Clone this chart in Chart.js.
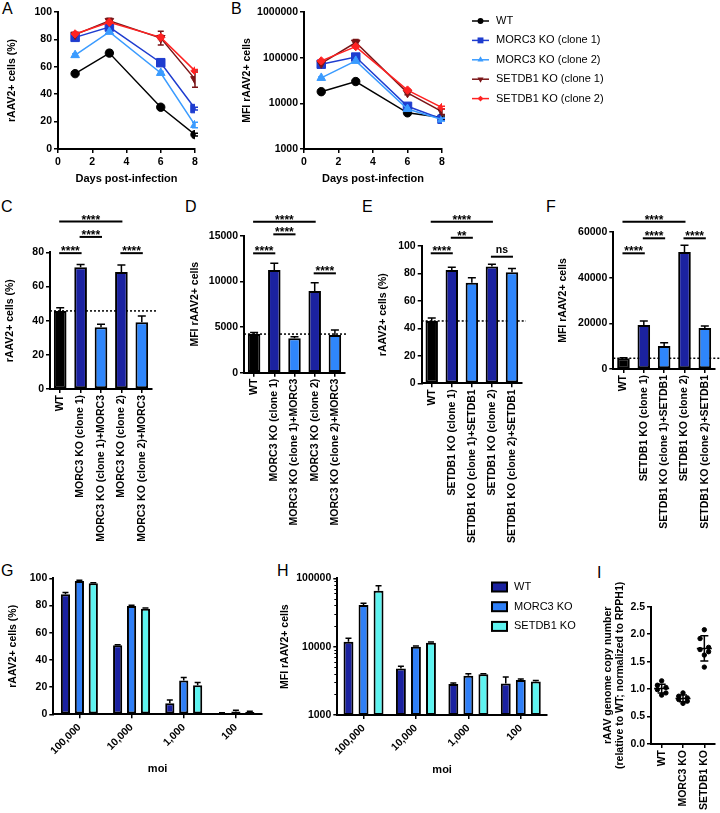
<!DOCTYPE html>
<html>
<head>
<meta charset="utf-8">
<script src="https://cdn.jsdelivr.net/npm/chart.js@4.4.1/dist/chart.umd.min.js"></script>
<style>
html, body { margin: 0; padding: 0; background: #fff; }
body { position: relative; width: 720px; height: 813px; overflow: hidden; }
canvas { position: absolute; }
.lbl { position: absolute; font: 16px 'Liberation Sans', Arial, sans-serif; line-height: 16px; color: #000; }
</style>
</head>
<body>
<div class="lbl" style="left:2px;top:1px">A</div>
<div class="lbl" style="left:231px;top:1px">B</div>
<div class="lbl" style="left:1px;top:199px">C</div>
<div class="lbl" style="left:185px;top:199px">D</div>
<div class="lbl" style="left:362px;top:199px">E</div>
<div class="lbl" style="left:546px;top:199px">F</div>
<div class="lbl" style="left:1px;top:563px">G</div>
<div class="lbl" style="left:277px;top:563px">H</div>
<div class="lbl" style="left:597px;top:565px">I</div>
<script>
// ---- data ----
const DAYS = [1, 3, 6, 8];
const LINE_NAMES = ['WT', 'MORC3 KO (clone 1)', 'MORC3 KO (clone 2)', 'SETDB1 KO (clone 1)', 'SETDB1 KO (clone 2)'];

// A: % rAAV2+ cells over time (mean, SD)
const A_WT = [55, 70, 30.5, 10.5],   A_WT_SD = [1, 2, 1, 1];
const A_M1 = [81.5, 89, 63, 29.5],   A_M1_SD = [1.5, 1.5, 1.5, 1];
const A_M2 = [68.5, 85.5, 55.5, 17.5], A_M2_SD = [1, 1, 1, 2];
const A_S1 = [83.5, 93.5, 81, 51],   A_S1_SD = [1, 2, 5, 6];
const A_S2 = [84, 92.5, 81.5, 57],   A_S2_SD = [1, 1, 1.5, 1];

// B: MFI over time
const B_WT = [18000, 30000, 6200, 4900],    B_WT_SD = [800, 1500, 500, 400];
const B_M1 = [72000, 103000, 8600, 4500],   B_M1_SD = [5000, 8000, 600, 300];
const B_M2 = [36000, 85000, 7500, 4400],    B_M2_SD = [2000, 5000, 500, 300];
const B_S1 = [75000, 215000, 17000, 6600],  B_S1_SD = [5000, 35000, 1500, 900];
const B_S2 = [85000, 175000, 19500, 8100],  B_S2_SD = [4000, 10000, 1000, 500];
const B_TICKS = [1000, 10000, 100000, 1000000];

// C-F: rescue experiments
const C_CATS = ['WT', 'MORC3 KO (clone 1)', 'MORC3 KO (clone 1)+MORC3', 'MORC3 KO (clone 2)', 'MORC3 KO (clone 2)+MORC3'];
const E_CATS = ['WT', 'SETDB1 KO (clone 1)', 'SETDB1 KO (clone 1)+SETDB1', 'SETDB1 KO (clone 2)', 'SETDB1 KO (clone 2)+SETDB1'];
const C_VALS = [45.7, 71.2, 36.1, 68.5, 39],    C_SD = [1.9, 1.6, 1.8, 4.1, 3.7];
const D_VALS = [4230, 11240, 3760, 8940, 4120], D_SD = [180, 730, 180, 910, 550];
const E_VALS = [45.4, 82.5, 73.3, 85, 80.8],    E_SD = [2.2, 2, 3.6, 1.7, 2.9];
const F_VALS = [4700, 19270, 10070, 51240, 17950], F_SD = [250, 1750, 1460, 2920, 880];

// significance brackets: from/to category index, height in data units
const C_SIG = [{ from: 0, to: 1, y: 79.5, text: '****' }, { from: 1, to: 2, y: 89, text: '****' },
               { from: 0, to: 3, y: 98, text: '****' },   { from: 3, to: 4, y: 79.5, text: '****' }];
const D_SIG = [{ from: 0, to: 1, y: 13070, text: '****' }, { from: 1, to: 2, y: 15150, text: '****' },
               { from: 0, to: 3, y: 16530, text: '****' }, { from: 3, to: 4, y: 10880, text: '****' }];
const E_SIG = [{ from: 0, to: 1, y: 94.7, text: '****' }, { from: 1, to: 2, y: 106, text: '**' },
               { from: 0, to: 3, y: 117.7, text: '****' }, { from: 3, to: 4, y: 92.2, text: 'ns' }];
const F_SIG = [{ from: 0, to: 1, y: 50670, text: '****' }, { from: 1, to: 2, y: 57240, text: '****' },
               { from: 0, to: 3, y: 64500, text: '****' }, { from: 3, to: 4, y: 57240, text: '****' }];

// G-H: moi series
const MOI = ['100,000', '10,000', '1,000', '100'];
const GH_NAMES = ['WT', 'MORC3 KO', 'SETDB1 KO'];
const G_WT = [88.2, 50.7, 8.1, 0.7],   G_WT_SD = [1.3, 0.5, 2.4, 0.4];
const G_MO = [98, 79.7, 24.8, 2.0],    G_MO_SD = [0.5, 0.5, 2.2, 0.9];
const G_SE = [96.3, 77.7, 21.3, 1.7],  G_SE_SD = [0.5, 0.5, 2, 0.5];
const H_WT = [11800, 4800, 2850, 2900], H_WT_SD = [1450, 350, 80, 700];
const H_MO = [40700, 10000, 3750, 3250], H_MO_SD = [2300, 250, 250, 120];
const H_SE = [66000, 11400, 3950, 3100], H_SE_SD = [12000, 300, 80, 100];
const H_TICKS = [1000, 10000, 100000];

// I: genome copy number
const I_CATS = ['WT', 'MORC3 KO', 'SETDB1 KO'];
const I_WT = [1.15, 1.07, 1.03, 0.99, 0.93, 0.89];
const I_MO = [0.93, 0.87, 0.84, 0.81, 0.78, 0.74];
const I_SE = [2.08, 1.92, 1.76, 1.72, 1.68, 1.62, 1.40];
const I_MEAN = [1.01, 0.83, 1.74];
const I_SD = [0.08, 0.06, 0.23];
const I_TITLE = ['rAAV genome copy number', '(relative to WT; normalized to RPPH1)'];

// ---- styles ----
const FONT = "'Liberation Sans', Arial, Helvetica, sans-serif";
const LINE_COLORS = ['#000000', '#1e3ccf', '#3a9bff', '#7a1517', '#ff2222'];
const MARKERS = [
  { style: 'circle', r: 4.2, rot: 0 }, { style: 'rect', r: 6, rot: 0 }, { style: 'triangle', r: 5, rot: 0 },
  { style: 'triangle', r: 5, rot: 180 }, { style: 'rectRot', r: 4.2, rot: 0 }
];
const KO_DARK = '#1b22a0', RESCUE = '#2f86fb';
const RESCUE_FILL = ['#000000', KO_DARK, RESCUE, KO_DARK, RESCUE];
const GH_COLORS = ['#1b22a0', '#2f7ff7', '#5ef3f0'];

Chart.defaults.font.family = FONT;
Chart.defaults.font.size = 10.5;
Chart.defaults.font.weight = 'bold';
Chart.defaults.color = '#000';
Chart.defaults.animation = false;
Chart.defaults.plugins.legend.display = false;
Chart.defaults.plugins.tooltip.enabled = false;

// ---- plugins ----
function drawErrors(chart, o) {
  const ctx = chart.ctx;
  ctx.save();
  chart.data.datasets.forEach((ds, di) => {
    if (!ds.errors) return;
    const meta = chart.getDatasetMeta(di);
    const ys = chart.scales[meta.yAxisID];
    ctx.strokeStyle = o.color || ds.borderColor;
    ctx.lineWidth = 1.5;
    meta.data.forEach((el, i) => {
      const raw = ds.data[i];
      const v = typeof raw === 'object' ? raw.y : raw;
      const e = ds.errors[i];
      if (!e) return;
      const top = ys.getPixelForValue(v + e);
      const bot = ys.getPixelForValue(o.both ? v - e : v);
      const c = o.cap / 2;
      ctx.beginPath();
      ctx.moveTo(el.x, bot); ctx.lineTo(el.x, top);
      ctx.moveTo(el.x - c, top); ctx.lineTo(el.x + c, top);
      if (o.both) { ctx.moveTo(el.x - c, bot); ctx.lineTo(el.x + c, bot); }
      ctx.stroke();
    });
  });
  ctx.restore();
}
const errorBars = {
  id: 'errorBars',
  beforeDatasetsDraw(chart, a, o) { if (o.under) drawErrors(chart, o); },
  afterDatasetsDraw(chart, a, o) { if (!o.under) drawErrors(chart, o); }
};

const sigBrackets = {
  id: 'sig',
  afterDraw(chart, a, o) {
    const { ctx, scales: { x, y } } = chart;
    ctx.save();
    ctx.strokeStyle = '#000'; ctx.fillStyle = '#000'; ctx.lineWidth = 2;
    ctx.textAlign = 'center'; ctx.textBaseline = 'alphabetic';
    o.items.forEach(it => {
      const x1 = x.getPixelForValue(it.from) - 1, x2 = x.getPixelForValue(it.to) + 1;
      const py = y.getPixelForValue(it.y);
      ctx.beginPath(); ctx.moveTo(x1, py); ctx.lineTo(x2, py); ctx.stroke();
      if (it.text === 'ns') {
        ctx.font = 'bold 10.5px ' + FONT;
        ctx.fillText(it.text, (x1 + x2) / 2, py - 4);
      } else {
        ctx.font = 'bold 12px ' + FONT;
        ctx.fillText(it.text, (x1 + x2) / 2, py + 2);
      }
    });
    ctx.restore();
  }
};

const refLine = {
  id: 'refLine',
  beforeDatasetsDraw(chart, a, o) {
    const { ctx, chartArea, scales: { y } } = chart;
    const py = y.getPixelForValue(o.value);
    ctx.save();
    ctx.strokeStyle = '#000'; ctx.lineWidth = 1.5; ctx.setLineDash([2, 2]);
    ctx.beginPath(); ctx.moveTo(chartArea.left, py); ctx.lineTo(chartArea.right + o.extend, py); ctx.stroke();
    ctx.restore();
  }
};

const minorLog = {
  id: 'minorLog',
  afterDraw(chart) {
    const { ctx, chartArea, scales: { y } } = chart;
    ctx.save(); ctx.strokeStyle = '#000'; ctx.lineWidth = 1;
    for (let d = y.min; d < y.max; d *= 10) {
      for (let k = 2; k < 10; k++) {
        const py = Math.round(y.getPixelForValue(d * k)) + 0.5;
        ctx.beginPath(); ctx.moveTo(chartArea.left - 3, py); ctx.lineTo(chartArea.left, py); ctx.stroke();
      }
    }
    ctx.restore();
  }
};

// long two-line y title that Chart.js would squeeze to the axis height
const longTitle = {
  id: 'longTitle',
  afterDraw(chart, a, o) {
    const { ctx, chartArea } = chart;
    const ox = parseFloat(chart.canvas.style.left);
    ctx.save();
    ctx.fillStyle = '#000'; ctx.font = 'bold 10.5px ' + FONT;
    ctx.textAlign = 'center'; ctx.textBaseline = 'middle';
    o.lines.forEach((t, i) => {
      ctx.save();
      ctx.translate(o.x0 + i * o.dx - ox, (chartArea.top + chartArea.bottom) / 2);
      ctx.rotate(-Math.PI / 2);
      ctx.fillText(t, 0, 0);
      ctx.restore();
    });
    ctx.restore();
  }
};

function marker(ctx, style, r, rot, x, y) {
  ctx.beginPath();
  if (style === 'circle') ctx.arc(x, y, r, 0, Math.PI * 2);
  else if (style === 'rect') ctx.rect(x - r * 0.7, y - r * 0.7, r * 1.4, r * 1.4);
  else if (style === 'rectRot') { ctx.moveTo(x, y - r); ctx.lineTo(x + r, y); ctx.lineTo(x, y + r); ctx.lineTo(x - r, y); }
  else {
    const s = rot ? -1 : 1;
    ctx.moveTo(x, y - s * r); ctx.lineTo(x + r * 0.87, y + s * r * 0.5); ctx.lineTo(x - r * 0.87, y + s * r * 0.5);
  }
  ctx.closePath(); ctx.fill();
}

const lineLegend = {
  id: 'lineLegend',
  afterDraw(chart, a, o) {
    const ctx = chart.ctx;
    const ox = parseFloat(chart.canvas.style.left), oy = parseFloat(chart.canvas.style.top);
    ctx.save();
    chart.data.datasets.forEach((ds, i) => {
      const y = o.y0 + i * o.dy - oy, x0 = o.x0 - ox;
      ctx.strokeStyle = ds.borderColor; ctx.fillStyle = ds.borderColor; ctx.lineWidth = 1.5;
      ctx.beginPath(); ctx.moveTo(x0, y); ctx.lineTo(x0 + o.len, y); ctx.stroke();
      marker(ctx, MARKERS[i].style, MARKERS[i].r * 0.7, MARKERS[i].rot, x0 + o.len / 2, y);
      ctx.fillStyle = '#000'; ctx.font = '11px ' + FONT;
      ctx.textAlign = 'left'; ctx.textBaseline = 'middle';
      ctx.fillText(ds.label, o.tx - ox, y);
    });
    ctx.restore();
  }
};

const barLegend = {
  id: 'barLegend',
  afterDraw(chart, a, o) {
    const ctx = chart.ctx;
    const ox = parseFloat(chart.canvas.style.left), oy = parseFloat(chart.canvas.style.top);
    ctx.save();
    chart.data.datasets.forEach((ds, i) => {
      const y = o.y0 + i * o.dy - oy, x0 = o.x0 - ox;
      ctx.fillStyle = ds.backgroundColor; ctx.fillRect(x0, y - 4.5, 15, 9);
      ctx.strokeStyle = '#000'; ctx.lineWidth = 2; ctx.strokeRect(x0, y - 4.5, 15, 9);
      ctx.fillStyle = '#000'; ctx.font = '11px ' + FONT;
      ctx.textAlign = 'left'; ctx.textBaseline = 'middle';
      ctx.fillText(ds.label, o.tx - ox, y);
    });
    ctx.restore();
  }
};

const meanSd = {
  id: 'meanSd',
  afterDatasetsDraw(chart, a, o) {
    const { ctx, scales: { x, y } } = chart;
    ctx.save(); ctx.strokeStyle = '#000'; ctx.lineWidth = 1.5;
    o.means.forEach((m, i) => {
      const px = x.getPixelForValue(i);
      const pm = y.getPixelForValue(m), pt = y.getPixelForValue(m + o.sds[i]), pb = y.getPixelForValue(m - o.sds[i]);
      ctx.beginPath();
      ctx.moveTo(px - 7.5, pm); ctx.lineTo(px + 7.5, pm);
      ctx.moveTo(px, pt); ctx.lineTo(px, pb);
      ctx.moveTo(px - 4, pt); ctx.lineTo(px + 4, pt);
      ctx.moveTo(px - 4, pb); ctx.lineTo(px + 4, pb);
      ctx.stroke();
    });
    ctx.restore();
  }
};

// ---- helpers ----
function ax(o) {
  return Object.assign({
    border: { color: '#000', width: 2 },
    grid: { drawOnChartArea: false, color: '#000', lineWidth: 1.5, tickLength: 4, offset: false }
  }, o, { ticks: Object.assign({ padding: 2, autoSkip: false }, o.ticks || {}) });
}
function ytitle(text) { return { display: true, text, padding: 0 }; }

function panel(box, area, cfg) {
  const cv = document.createElement('canvas');
  cv.width = box.w; cv.height = box.h;
  cv.style.left = box.x + 'px'; cv.style.top = box.y + 'px';
  document.body.appendChild(cv);
  cfg.options.responsive = false;
  cfg.options.layout = { padding: { left: 0, top: area.t - box.y, right: box.x + box.w - area.r, bottom: 0 } };
  cfg.options.scales.y.afterFit = s => { s.width = area.l - box.x; };
  cfg.options.scales.x.afterFit = s => { s.height = box.y + box.h - area.b; };
  return new Chart(cv, cfg);
}

function lineSet(i, vals, sds) {
  return {
    label: LINE_NAMES[i], data: DAYS.map((d, k) => ({ x: d, y: vals[k] })), errors: sds,
    borderColor: LINE_COLORS[i], backgroundColor: LINE_COLORS[i], borderWidth: 1.5,
    pointStyle: MARKERS[i].style, pointRadius: MARKERS[i].r, pointRotation: MARKERS[i].rot,
    pointBorderWidth: 1, order: LINE_NAMES.length - i
  };
}
function daysX() {
  return ax({ type: 'linear', min: 0, max: 8, ticks: { stepSize: 2, padding: 3 },
    title: { display: true, text: 'Days post-infection', padding: 0, font: { size: 11 } } });
}

// ---- A ----
panel({ x: 6, y: 0, w: 230, h: 186 }, { l: 58, t: 12, r: 195, b: 149 }, {
  type: 'line',
  data: { datasets: [lineSet(0, A_WT, A_WT_SD), lineSet(1, A_M1, A_M1_SD), lineSet(2, A_M2, A_M2_SD),
                     lineSet(3, A_S1, A_S1_SD), lineSet(4, A_S2, A_S2_SD)] },
  options: {
    scales: { x: daysX(), y: ax({ min: 0, max: 100, ticks: { stepSize: 20 }, title: ytitle('rAAV2+ cells (%)') }) },
    plugins: { errorBars: { under: true, both: true, cap: 6 } }
  },
  plugins: [errorBars]
});

// ---- B ----
panel({ x: 241, y: 0, w: 479, h: 186 }, { l: 304, t: 12, r: 442, b: 149 }, {
  type: 'line',
  data: { datasets: [lineSet(0, B_WT, B_WT_SD), lineSet(1, B_M1, B_M1_SD), lineSet(2, B_M2, B_M2_SD),
                     lineSet(3, B_S1, B_S1_SD), lineSet(4, B_S2, B_S2_SD)] },
  options: {
    scales: {
      x: daysX(),
      y: ax({ type: 'logarithmic', min: 1000, max: 1000000,
        afterBuildTicks: s => { s.ticks = B_TICKS.map(v => ({ value: v })); },
        ticks: { callback: v => String(v) }, title: ytitle('MFI rAAV2+ cells') })
    },
    plugins: { errorBars: { under: true, both: true, cap: 6 },
               lineLegend: { x0: 472, len: 17, tx: 496, y0: 21, dy: 19.4 } }
  },
  plugins: [errorBars, lineLegend]
});

// ---- C-F ----
function rescue(box, area, cats, vals, sds, max, step, title, sig, extend) {
  return panel(box, area, {
    type: 'bar',
    data: { labels: cats, datasets: [{ data: vals, errors: sds, backgroundColor: RESCUE_FILL, borderColor: '#000',
      borderWidth: 2, borderSkipped: false, barPercentage: 0.62, categoryPercentage: 1 }] },
    options: {
      scales: {
        x: ax({ offset: true, ticks: { minRotation: 90, maxRotation: 90 } }),
        y: ax({ min: 0, max, ticks: { stepSize: step, callback: v => String(v) }, title: ytitle(title) })
      },
      plugins: { errorBars: { color: '#000', cap: 8 }, sig: { items: sig }, refLine: { value: vals[0], extend } }
    },
    plugins: [refLine, errorBars, sigBrackets]
  });
}
rescue({ x: 4, y: 200, w: 165, h: 350 }, { l: 50, t: 252.3, r: 152, b: 389 }, C_CATS, C_VALS, C_SD, 80, 20, 'rAAV2+ cells (%)', C_SIG, 4);
rescue({ x: 189, y: 200, w: 165, h: 350 }, { l: 244, t: 235.7, r: 345, b: 372.7 }, C_CATS, D_VALS, D_SD, 15000, 5000, 'MFI rAAV2+ cells', D_SIG, 2);
rescue({ x: 377, y: 200, w: 160, h: 350 }, { l: 421.7, t: 246, r: 522, b: 383.3 }, E_CATS, E_VALS, E_SD, 100, 20, 'rAAV2+ cells (%)', E_SIG, 4);
rescue({ x: 557, y: 200, w: 163, h: 350 }, { l: 613.3, t: 232, r: 715, b: 369 }, E_CATS, F_VALS, F_SD, 60000, 20000, 'MFI rAAV2+ cells', F_SIG, 5);

// ---- G-H ----
function moiSet(i, vals, sds, catPct) {
  return { label: GH_NAMES[i], data: vals, errors: sds, backgroundColor: GH_COLORS[i], borderColor: '#000',
    borderWidth: 2, borderSkipped: false, categoryPercentage: catPct, barPercentage: 0.66 };
}
function moiX() {
  return ax({ offset: true, ticks: { minRotation: 45, maxRotation: 45, padding: 3 },
    title: { display: true, text: 'moi', padding: 0, font: { size: 11 } } });
}
panel({ x: 7, y: 560, w: 270, h: 216 }, { l: 53.3, t: 578.3, r: 262, b: 714.3 }, {
  type: 'bar',
  data: { labels: MOI, datasets: [moiSet(0, G_WT, G_WT_SD, 0.8), moiSet(1, G_MO, G_MO_SD, 0.8), moiSet(2, G_SE, G_SE_SD, 0.8)] },
  options: {
    scales: { x: moiX(), y: ax({ min: 0, max: 100, ticks: { stepSize: 20 }, title: ytitle('rAAV2+ cells (%)') }) },
    plugins: { errorBars: { color: '#000', cap: 6 } }
  },
  plugins: [errorBars]
});
panel({ x: 279, y: 560, w: 311, h: 217 }, { l: 337.3, t: 578.3, r: 547, b: 715 }, {
  type: 'bar',
  data: { labels: MOI, datasets: [moiSet(0, H_WT, H_WT_SD, 0.86), moiSet(1, H_MO, H_MO_SD, 0.86), moiSet(2, H_SE, H_SE_SD, 0.86)] },
  options: {
    scales: {
      x: moiX(),
      y: ax({ type: 'logarithmic', min: 1000, max: 100000,
        afterBuildTicks: s => { s.ticks = H_TICKS.map(v => ({ value: v })); },
        ticks: { callback: v => String(v) }, title: ytitle('MFI rAAV2+ cells') })
    },
    plugins: { errorBars: { color: '#000', cap: 6 }, barLegend: { x0: 492, tx: 514, y0: 587, dy: 19.7 } }
  },
  plugins: [errorBars, minorLog, barLegend]
});

// ---- I ----
const I_GROUPS = [I_WT, I_MO, I_SE];
const spread = k => [0, -0.2, 0.2, -0.2, 0.2, 0, 0][k];
panel({ x: 598, y: 560, w: 122, h: 253 }, { l: 651, t: 606.7, r: 717, b: 744 }, {
  type: 'scatter',
  data: { datasets: [{ data: I_GROUPS.flatMap((g, i) => g.map((v, k) => ({ x: i + spread(k), y: v }))),
    backgroundColor: '#000', borderColor: '#000', pointRadius: 2.2 }] },
  options: {
    scales: {
      x: ax({ type: 'linear', min: -0.5, max: 2.5,
        afterBuildTicks: s => { s.ticks = I_CATS.map((c, i) => ({ value: i })); },
        ticks: { minRotation: 90, maxRotation: 90, callback: v => I_CATS[v] } }),
      y: ax({ min: 0, max: 2.5, ticks: { stepSize: 0.5, callback: v => v.toFixed(1) } })
    },
    plugins: { meanSd: { means: I_MEAN, sds: I_SD }, longTitle: { lines: I_TITLE, x0: 608.3, dx: 12 } }
  },
  plugins: [meanSd, longTitle]
});
</script>
</body>
</html>
